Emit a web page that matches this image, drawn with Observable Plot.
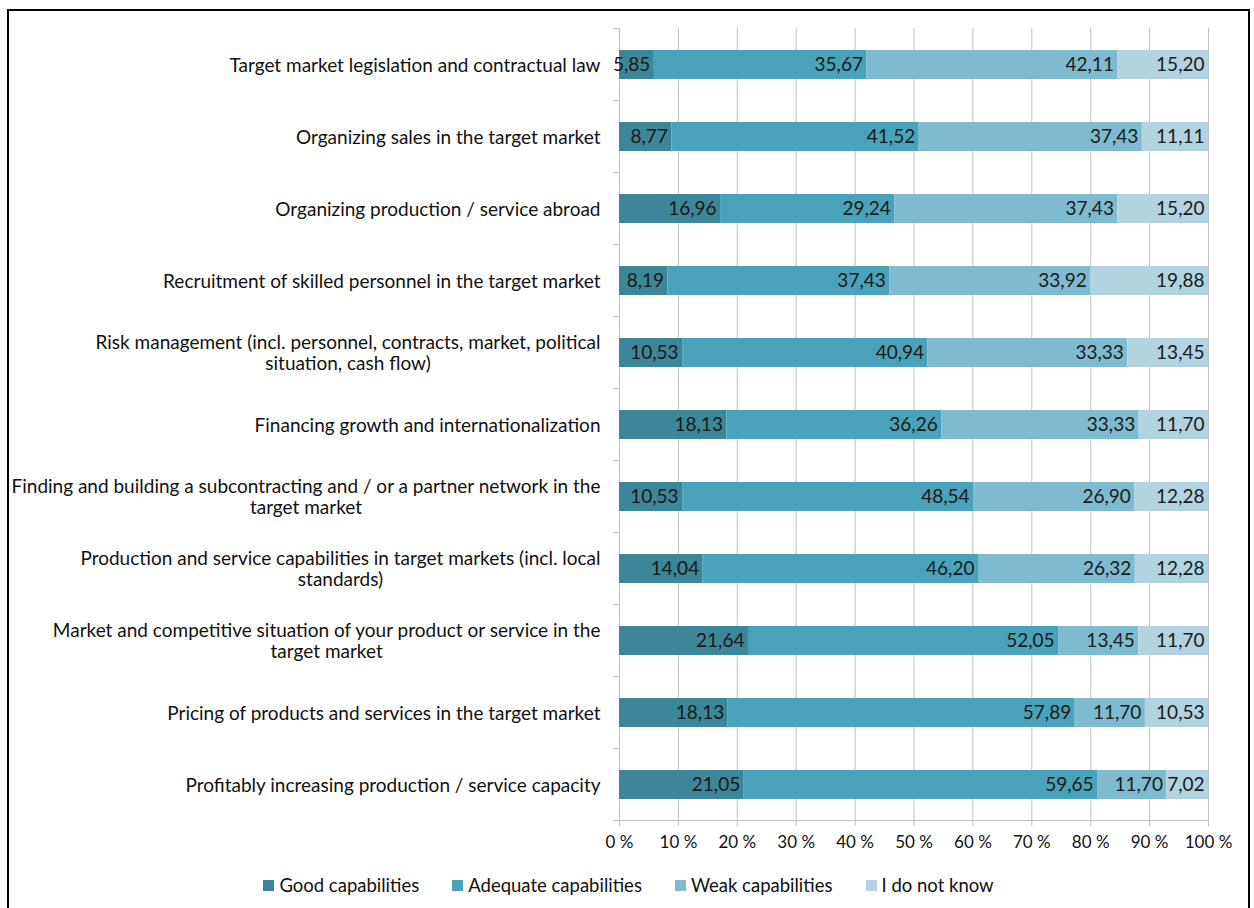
<!DOCTYPE html>
<html>
<head>
<meta charset="utf-8">
<script src="https://cdn.jsdelivr.net/npm/d3@7"></script>
<script src="https://cdn.jsdelivr.net/npm/@observablehq/plot@0.6"></script>
<style>
  body { margin: 0; background: #fff; font-family: Lato, "Open Sans", sans-serif; }
  #frame { position: absolute; left: 7px; top: 9px; width: 1239px; height: 920px; border: 2px solid #000; background: #fff; }
  #chart { position: absolute; left: 0; top: 0; }
  #legend { position: absolute; left: 0; right: 0; top: 863px; display: flex; justify-content: center; gap: 33px; font-size: 18.5px; color: #111; }
  #legend .item { display: flex; align-items: center; gap: 5px; }
  #legend .sw { width: 11px; height: 11px; display: inline-block; }
</style>
</head>
<body>
<div id="frame">
  <div id="chart"></div>
  <div id="legend"></div>
</div>
<script>
const categories = [
  "Target market legislation and contractual law",
  "Organizing sales in the target market",
  "Organizing production / service abroad",
  "Recruitment of skilled personnel in the target market",
  "Risk management (incl. personnel, contracts, market, political\nsituation, cash flow)",
  "Financing growth and internationalization",
  "Finding and building a subcontracting and / or a partner network in the\ntarget market",
  "Production and service capabilities in target markets (incl. local\nstandards)",
  "Market and competitive situation of your product or service in the\ntarget market",
  "Pricing of products and services in the target market",
  "Profitably increasing production / service capacity"
];
const seriesNames = ["Good capabilities", "Adequate capabilities", "Weak capabilities", "I do not know"];
const good     = [5.85, 8.77, 16.96, 8.19, 10.53, 18.13, 10.53, 14.04, 21.64, 18.13, 21.05];
const adequate = [35.67, 41.52, 29.24, 37.43, 40.94, 36.26, 48.54, 46.20, 52.05, 57.89, 59.65];
const weak     = [42.11, 37.43, 37.43, 33.92, 33.33, 33.33, 26.90, 26.32, 13.45, 11.70, 11.70];
const dontKnow = [15.20, 11.11, 15.20, 19.88, 13.45, 11.70, 12.28, 12.28, 11.70, 10.53, 7.02];
const colors = ["#3b8699", "#49a2b9", "#7fbbd0", "#b2d4e0"];
const xTickPercents = [0, 10, 20, 30, 40, 50, 60, 70, 80, 90, 100];

const seriesValues = [good, adequate, weak, dontKnow];
const data = categories.flatMap((c, i) =>
  seriesNames.map((s, j) => ({category: c, series: s, value: seriesValues[j][i]})));
const fmt = v => v.toFixed(2).replace(".", ",");
const xTicks = xTickPercents.map(p => p / 100);

const W = 1239, H = 850, ML = 610, MR = 40, MT = 17, MB = 41;
const font = "Lato, 'Open Sans', sans-serif";

const plot = Plot.plot({
  width: W, height: H,
  marginLeft: ML, marginRight: MR, marginTop: MT, marginBottom: MB,
  style: {fontFamily: font, fontSize: "16px", color: "#111", background: "transparent"},
  x: {domain: [0, 1]},
  y: {domain: categories, paddingInner: 0.6, paddingOuter: 0.3},
  color: {domain: seriesNames, range: colors},
  marks: [
    Plot.ruleX(xTicks, {stroke: "#c0c0c0", strokeWidth: 1}),
    Plot.barX(data, Plot.stackX({x: "value", y: "category", fill: "series", offset: "normalize", order: seriesNames})),
    Plot.text(data, Plot.stackX2({
      x: "value", y: "category", z: "series", offset: "normalize", order: seriesNames,
      text: d => fmt(d.value), textAnchor: "end", dx: -4, fill: "#1a1a1a", fontSize: 19
    })),
    Plot.axisX({ticks: xTicks, tickFormat: d => Math.round(d * 100) + " %", tickSize: 6, tickPadding: 9,
      stroke: "#c0c0c0", fill: "#111", fontSize: 17, label: null}),
    Plot.axisY({tickSize: 0, tickPadding: 19, fontSize: 19, fill: "#111", label: null, lineHeight: 1.12, textOverflow: null})
  ]
});
document.getElementById("chart").appendChild(plot);

// bottom axis line and category boundary ticks, from the y band scale
const svg = d3.select(plot);
const ys = plot.scale("y");
const step = ys.step, bw = ys.bandwidth;
const bounds = categories.map(c => ys.apply(c) - (step - bw) / 2);
bounds.push(bounds[bounds.length - 1] + step);
const g = svg.append("g").attr("stroke", "#c0c0c0").attr("stroke-width", 1);
bounds.forEach(b => g.append("line").attr("x1", ML - 6).attr("x2", ML).attr("y1", b).attr("y2", b));
g.append("line").attr("x1", ML).attr("x2", W - MR).attr("y1", bounds[bounds.length - 1]).attr("y2", bounds[bounds.length - 1]);

// center second line of two-line category labels under the first (Excel style)
svg.selectAll("g[aria-label='y-axis tick label'] text").each(function () {
  const tspans = this.querySelectorAll("tspan");
  if (tspans.length > 1) {
    let maxW = 0;
    tspans.forEach(t => { maxW = Math.max(maxW, t.getComputedTextLength()); });
    this.setAttribute("text-anchor", "middle");
    tspans.forEach(t => t.setAttribute("x", -maxW / 2));
  }
});

// legend
const legend = d3.select("#legend");
seriesNames.forEach((s, i) => {
  const it = legend.append("div").attr("class", "item");
  it.append("span").attr("class", "sw").style("background", colors[i]);
  it.append("span").text(s);
});
</script>
</body>
</html>
